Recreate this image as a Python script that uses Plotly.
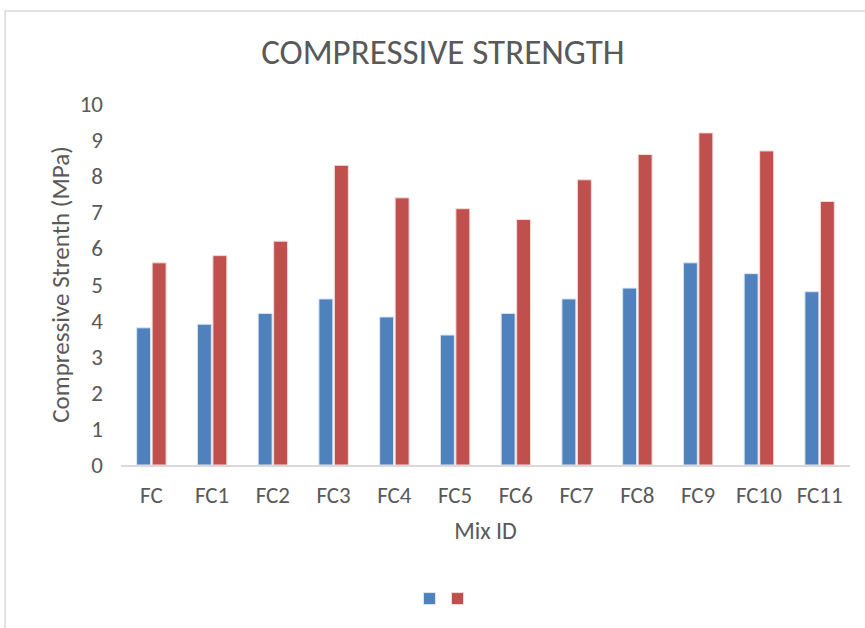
import plotly.graph_objects as go

# Mix identifiers along the category axis
mix_ids = ["FC", "FC1", "FC2", "FC3", "FC4", "FC5", "FC6", "FC7", "FC8", "FC9", "FC10", "FC11"]

# Compressive strength (MPa) for the two test series
series_a = [3.8, 3.9, 4.2, 4.6, 4.1, 3.6, 4.2, 4.6, 4.9, 5.6, 5.3, 4.8]
series_b = [5.6, 5.8, 6.2, 8.3, 7.4, 7.1, 6.8, 7.9, 8.6, 9.2, 8.7, 7.3]

y_ticks = [0, 1, 2, 3, 4, 5, 6, 7, 8, 9, 10]

BLUE = "#4F81BD"
RED = "#C0504D"
TEXT = "#595959"
FONT = "Calibri, Carlito, Lato, 'Open Sans', sans-serif"

fig = go.Figure()
fig.add_trace(go.Bar(x=mix_ids, y=series_a, name=" ", legend="legend",
                     marker=dict(color=BLUE, line=dict(color="#DCE6F2", width=1))))
fig.add_trace(go.Bar(x=mix_ids, y=series_b, name=" ", legend="legend2",
                     marker=dict(color=RED, line=dict(color="#F2DCDB", width=1))))

legend_style = dict(orientation="h", xanchor="left", yanchor="middle", y=-0.37,
                    font=dict(size=12), itemwidth=30, bgcolor="rgba(0,0,0,0)")

fig.update_layout(
    width=865, height=628,
    margin=dict(l=121, r=15, t=104, b=163),
    paper_bgcolor="white", plot_bgcolor="white",
    barmode="group", bargap=0.49, bargroupgap=0.1,
    font=dict(family=FONT, color=TEXT, size=22),
    title=dict(text="COMPRESSIVE STRENGTH", x=0.512, xanchor="center", y=0.917, yanchor="middle",
               font=dict(family=FONT, size=35, color=TEXT)),
    showlegend=True,
    legend=dict(legend_style, x=(430.5 - 21 - 121) / 729),
    legend2=dict(legend_style, x=(458.5 - 21 - 121) / 729),
    xaxis=dict(showgrid=False, showline=True, linecolor="#D9D9D9", linewidth=2, ticks="",
               tickfont=dict(size=23, color=TEXT), ticklabelstandoff=8,
               title=dict(text="Mix ID", font=dict(size=24, color=TEXT), standoff=15)),
    yaxis=dict(range=[0, 10], tickvals=y_ticks, showgrid=False, zeroline=False, showline=False, ticks="",
               tickfont=dict(size=23, color=TEXT), ticklabelstandoff=17,
               title=dict(text="Compressive Strenth (MPa)", font=dict(size=25, color=TEXT), standoff=2)),
    shapes=[dict(type="rect", xref="paper", yref="paper", x0=-0.159, x1=1.03, y0=-0.5, y1=1.2576,
                 line=dict(color="#D9D9D9", width=1.5), fillcolor="rgba(0,0,0,0)", layer="below")],
)

fig.write_html("out.html")
